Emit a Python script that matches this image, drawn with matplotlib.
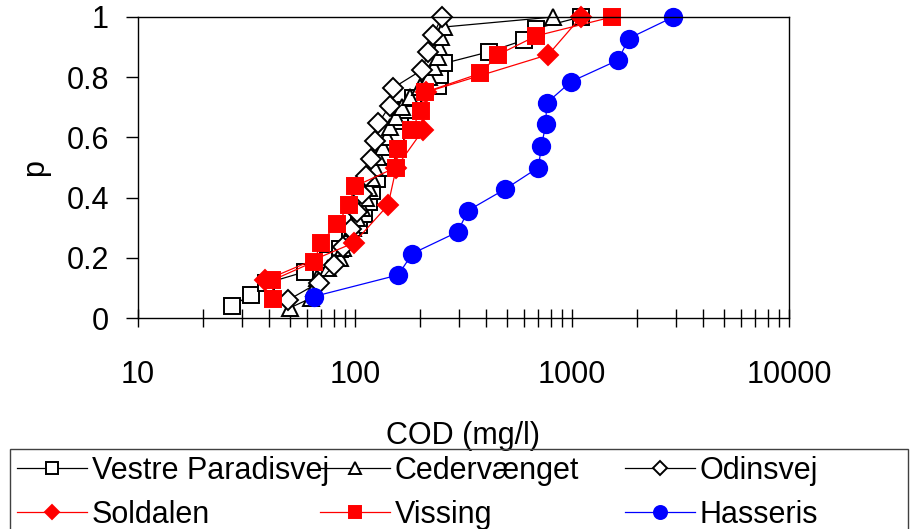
import matplotlib.pyplot as plt
import numpy as np
from matplotlib.patches import Rectangle
from matplotlib.ticker import LogLocator, NullFormatter

plt.rcParams['font.family'] = ['Liberation Sans', 'DejaVu Sans']
plt.rcParams['font.size'] = 22

# COD values (mg/l), sorted
vestre = [27, 33, 39, 59, 75, 85, 95, 104, 110, 116, 120, 126, 132, 140, 148,
          155, 162, 172, 185, 240, 246, 258, 416, 600, 680, 1100]
ceder = [50, 63, 65, 67, 75, 85, 88, 92, 98, 102, 108, 112, 116, 120, 124,
         128, 135, 140, 145, 155, 165, 180, 200, 220, 232, 240, 245, 250, 256, 820]
odin = [49, 68, 80, 88, 96, 102, 108, 112, 119, 124, 128, 145, 150, 203, 218, 230, 251]
soldalen = [38.5, 99, 142, 155, 206, 212, 778, 1099]
vissing = [42, 41.5, 65, 69.5, 83, 93.4, 100, 154, 157, 182, 201, 210, 377, 457, 686, 1528]
hasseris = [64.7, 158, 184, 297, 332, 493, 700, 723, 757, 764, 993, 1635, 1824, 2930]

series = [
    ("Vestre Paradisvej", vestre, dict(color='black', marker='s', mfc='white', ms=11.5)),
    ("Cedervænget", ceder, dict(color='black', marker='^', mfc='white', ms=11)),
    ("Odinsvej", odin, dict(color='black', marker='D', mfc='white', ms=10)),
    ("Soldalen", soldalen, dict(color='red', marker='D', mfc='red', ms=10)),
    ("Vissing", vissing, dict(color='red', marker='s', mfc='red', ms=12)),
    ("Hasseris", hasseris, dict(color='blue', marker='o', mfc='blue', ms=12.5)),
]

fig = plt.figure(figsize=(9.15, 5.29), dpi=100)
ax = fig.add_axes([138 / 915, 1 - 318 / 529, (789 - 138) / 915, (318 - 17) / 529])

handles = {}
for name, vals, st in series:
    n = len(vals)
    p = np.arange(1, n + 1) / n
    ln, = ax.plot(vals, p, color=st['color'], marker=st['marker'], mfc=st['mfc'],
                  mec=st['color'], ms=st['ms'], mew=1.4, lw=0.9, label=name,
                  clip_on=False)
    handles[name] = ln

ax.set_xscale('log')
ax.set_xlim(10, 10000)
ax.set_ylim(0, 1)
ax.set_yticks([0, 0.2, 0.4, 0.6, 0.8, 1])
ax.set_yticklabels(['0', '0.2', '0.4', '0.6', '0.8', '1'])
ax.xaxis.set_minor_locator(LogLocator(base=10, subs=np.arange(2, 10), numticks=20))
ax.xaxis.set_minor_formatter(NullFormatter())
ax.set_xticks([10, 100, 1000, 10000])
ax.set_xticklabels(['10', '100', '1000', '10000'])
ax.tick_params(axis='x', which='both', direction='inout', length=13, width=1, pad=24, top=False)
ax.tick_params(axis='y', direction='out', length=9, width=1, pad=12, right=False)
for s in ax.spines.values():
    s.set_linewidth(1)
ax.set_xlabel('COD (mg/l)', labelpad=22)
ax.set_ylabel('p', labelpad=12)

# legend box, three columns on a fixed grid
fig.add_artist(Rectangle((10 / 915, -0.05), 898 / 915, 0.05 + 1 - 449 / 529,
                         transform=fig.transFigure, fill=False, lw=1, ec='#404040'))
cols = [("Vestre Paradisvej", "Soldalen"), ("Cedervænget", "Vissing"), ("Odinsvej", "Hasseris")]
xs = [17, 320, 625]
for x0, names in zip(xs, cols):
    leg = fig.legend([handles[k] for k in names], names, loc='upper left',
                     bbox_to_anchor=(x0 / 915, 1 - 456 / 529), frameon=False,
                     borderpad=0, borderaxespad=0, handlelength=2.3, handletextpad=0.15,
                     labelspacing=0.45, markerscale=0.75)

fig.savefig('out.png', dpi=100)
